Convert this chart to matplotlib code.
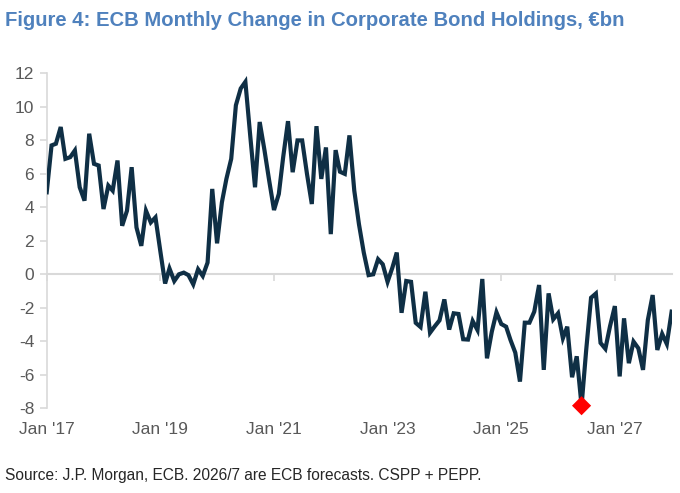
import numpy as np
import pandas as pd
import matplotlib
matplotlib.use("Agg")
import matplotlib.pyplot as plt

plt.rcParams['font.family'] = ['Liberation Sans', 'DejaVu Sans']

# monthly change in holdings, EUR bn, Jan 2017 onwards (2026/7 forecasts)
holdings_change = [
    4.9, 7.7, 7.8, 8.8, 6.9, 7.0, 7.4, 5.2, 4.4, 8.4, 6.6, 6.5,
    3.9, 5.3, 5.0, 6.8, 2.9, 3.8, 6.4, 2.8, 1.7, 3.8, 3.1, 3.4,
    1.4, -0.55, 0.35, -0.4, 0.0, 0.1, -0.05, -0.6, 0.3, -0.1, 0.7, 5.1,
    1.85, 4.3, 5.7, 6.9, 10.1, 11.1, 11.5, 8.3, 5.2, 9.1, 7.4, 5.6,
    3.84, 4.8, 7.0, 9.15, 6.1, 8.0, 8.0, 6.0, 4.2, 8.85, 5.7, 7.58,
    2.4, 7.42, 6.13, 6.0, 8.3, 5.0, 3.0, 1.3, -0.05, 0.0, 0.9, 0.6,
    -0.45, 0.4, 1.3, -2.3, -0.4, -0.45, -2.9, -3.15, -1.04, -3.49, -3.1, -2.75,
    -1.5, -3.3, -2.33, -2.37, -3.88, -3.9, -2.79, -3.33, -0.28, -5.02, -3.43, -2.27,
    -2.97, -3.13, -3.92, -4.68, -6.41, -2.89, -2.89, -2.23, -0.64, -5.71, -1.14, -2.69,
    -2.33, -3.82, -3.13, -6.15, -4.9, -7.85, -4.5, -1.4, -1.15, -4.1, -4.45, -3.1,
    -1.9, -6.1, -2.63, -5.31, -4.02, -4.42, -5.71, -2.73, -1.24, -4.52, -3.56, -4.16,
    -2.23,
]
dates = pd.date_range('2017-01-01', periods=len(holdings_change), freq='MS')

tick_years = [2017, 2019, 2021, 2023, 2025, 2027]
tick_labels = ["Jan '17", "Jan '19", "Jan '21", "Jan '23", "Jan '25", "Jan '27"]
y_ticks = [12, 10, 8, 6, 4, 2, 0, -2, -4, -6, -8]

values = np.array(holdings_change)
i_min = int(np.argmin(values))

fig = plt.figure(figsize=(6.8, 4.93), dpi=100)
ax = fig.add_axes([0.0687, 0.172, 0.919, 0.679])

ax.plot(dates, values, color='#0f2f45', lw=3.0, solid_joinstyle='miter', zorder=3)
ax.scatter([dates[i_min]], [values[i_min]], marker='D', s=95, color='#ff0000',
           edgecolors='none', zorder=4, clip_on=False)

ax.set_xlim(dates[0], dates[-1])
ax.set_ylim(-8, 12)
ax.set_yticks(y_ticks)
ax.set_yticklabels([str(v) for v in y_ticks])

for s in ['top', 'right']:
    ax.spines[s].set_visible(False)
ax.spines['left'].set_color('#d9d9d9')
ax.spines['left'].set_linewidth(1.2)
ax.spines['bottom'].set_position(('data', 0))
ax.spines['bottom'].set_color('#d9d9d9')
ax.spines['bottom'].set_linewidth(1.5)
ax.spines['bottom'].set_zorder(1)

tick_dates = [pd.Timestamp(f'{y}-01-01') for y in tick_years]
ax.set_xticks(tick_dates)
ax.set_xticklabels([])
ax.tick_params(axis='x', direction='out', length=5, width=1.2, color='#d9d9d9')
ax.tick_params(axis='y', direction='out', length=5, width=1.2, color='#d9d9d9',
               labelsize=12.5, labelcolor='#595959', pad=4)

for d, lab in zip(tick_dates, tick_labels):
    ax.text(d, -0.04, lab, transform=ax.get_xaxis_transform(), ha='center', va='top',
            fontsize=12.5, color='#595959')

fig.text(0.007, 0.958, 'Figure 4: ECB Monthly Change in Corporate Bond Holdings, €bn',
         fontsize=14.6, fontweight='bold', color='#4f81bd', ha='left', va='center')
fig.text(0.007, 0.036, 'Source: J.P. Morgan, ECB. 2026/7 are ECB forecasts. CSPP + PEPP.',
         fontsize=11.2, color='#262626', ha='left', va='center')

fig.savefig('out.png', dpi=100)
